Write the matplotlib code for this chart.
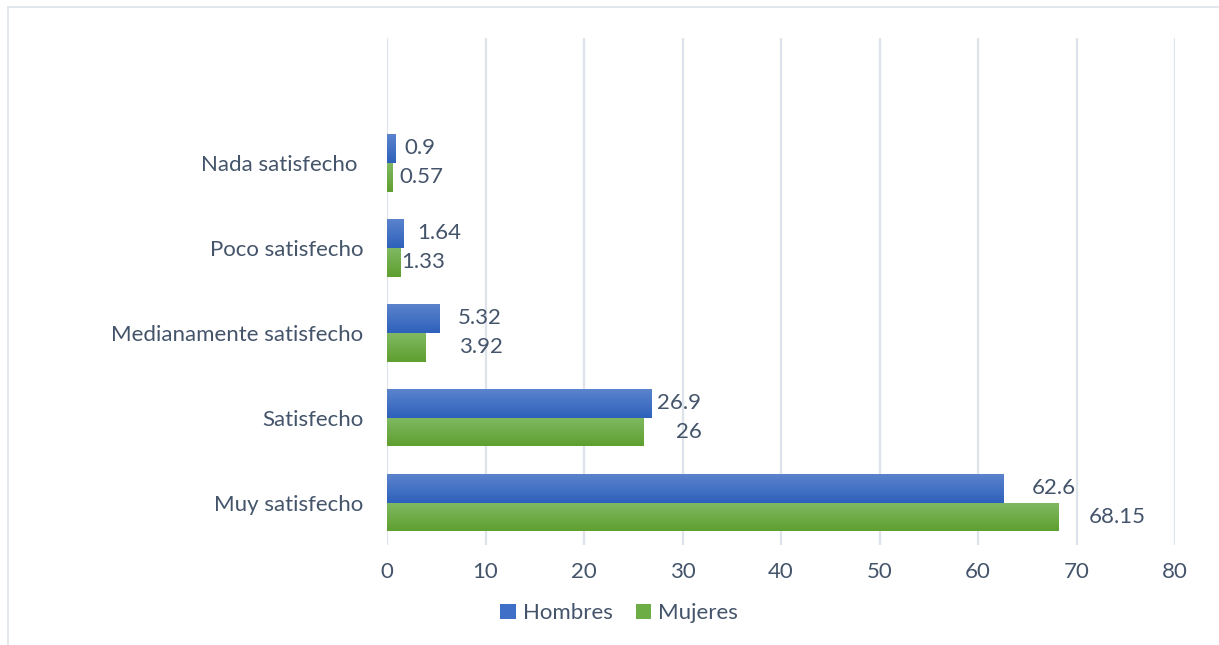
import numpy as np
import matplotlib.pyplot as plt
from matplotlib.colors import LinearSegmentedColormap
from matplotlib.lines import Line2D

plt.rcParams['font.family'] = ['Lato', 'DejaVu Sans']

categorias = ["Muy satisfecho", "Satisfecho", "Medianamente satisfecho",
              "Poco satisfecho", "Nada satisfecho "]
hombres = [62.6, 26.9, 5.32, 1.64, 0.9]
mujeres = [68.15, 26, 3.92, 1.33, 0.57]
xticks = [0, 10, 20, 30, 40, 50, 60, 70, 80]

# desplazamiento de las etiquetas (px) respecto al extremo de cada barra
off_h = [28, 5, 18, 14, 9]
off_m = [30, 33, 33, 1, 7]

txt = "#44546A"
grid_c = "#DDE3EA"
fs = 16

fig = plt.figure(figsize=(12.19, 6.45), dpi=100)
ax = fig.add_axes([387/1219, 100/645, 788/1219, 507/645])

y = np.arange(len(categorias))
h = 0.34
bh = ax.barh(y + h/2, hombres, height=h, color="#3F6FC6", label="Hombres", zorder=2)
bm = ax.barh(y - h/2, mujeres, height=h, color="#6CAD45", label="Mujeres", zorder=2)

# degradado vertical dentro de cada barra
cm_h = LinearSegmentedColormap.from_list("h", ["#2E61BB", "#5B83CD"])
cm_m = LinearSegmentedColormap.from_list("m", ["#5F9F30", "#80B962"])
grad = np.linspace(0, 1, 64).reshape(-1, 1)
for bars, cmap in ((bh, cm_h), (bm, cm_m)):
    for p in bars:
        x0, y0 = p.get_x(), p.get_y()
        im = ax.imshow(grad, cmap=cmap, origin="lower", aspect="auto",
                       extent=[x0, x0 + p.get_width(), y0, y0 + p.get_height()],
                       zorder=3)
        im.set_clip_path(p)

for i in range(len(categorias)):
    ax.annotate(f"{hombres[i]:g}", (hombres[i], y[i] + h/2), xytext=(off_h[i]*0.72, 0),
                textcoords="offset points", va="center", ha="left", fontsize=fs, color=txt)
    ax.annotate(f"{mujeres[i]:g}", (mujeres[i], y[i] - h/2), xytext=(off_m[i]*0.72, 0),
                textcoords="offset points", va="center", ha="left", fontsize=fs, color=txt)

ax.set_xlim(0, 80)
ax.set_ylim(-0.5, 5.47)
ax.set_xticks(xticks)
ax.set_yticks(y)
ax.set_yticklabels(categorias)
ax.tick_params(axis="both", length=0, labelsize=fs, colors=txt)
ax.tick_params(axis="y", pad=17)
ax.tick_params(axis="x", pad=12)
ax.grid(axis="x", color=grid_c, lw=1.6, zorder=0)
for s in ax.spines.values():
    s.set_visible(False)

fig.legend(handles=[bh, bm], loc="center", bbox_to_anchor=(0.508, 0.049), ncol=2,
           frameon=False, fontsize=fs, labelcolor=txt, handlelength=0.7,
           handleheight=0.7, handletextpad=0.3, columnspacing=1.05)

# marco: solo borde superior e izquierdo
fig.lines.append(Line2D([8/1219, 1], [638/645, 638/645], transform=fig.transFigure,
                        color=grid_c, lw=1.2))
fig.lines.append(Line2D([8/1219, 8/1219], [0, 638/645], transform=fig.transFigure,
                        color=grid_c, lw=1.2))

fig.savefig("out.png", dpi=100, facecolor="white")
